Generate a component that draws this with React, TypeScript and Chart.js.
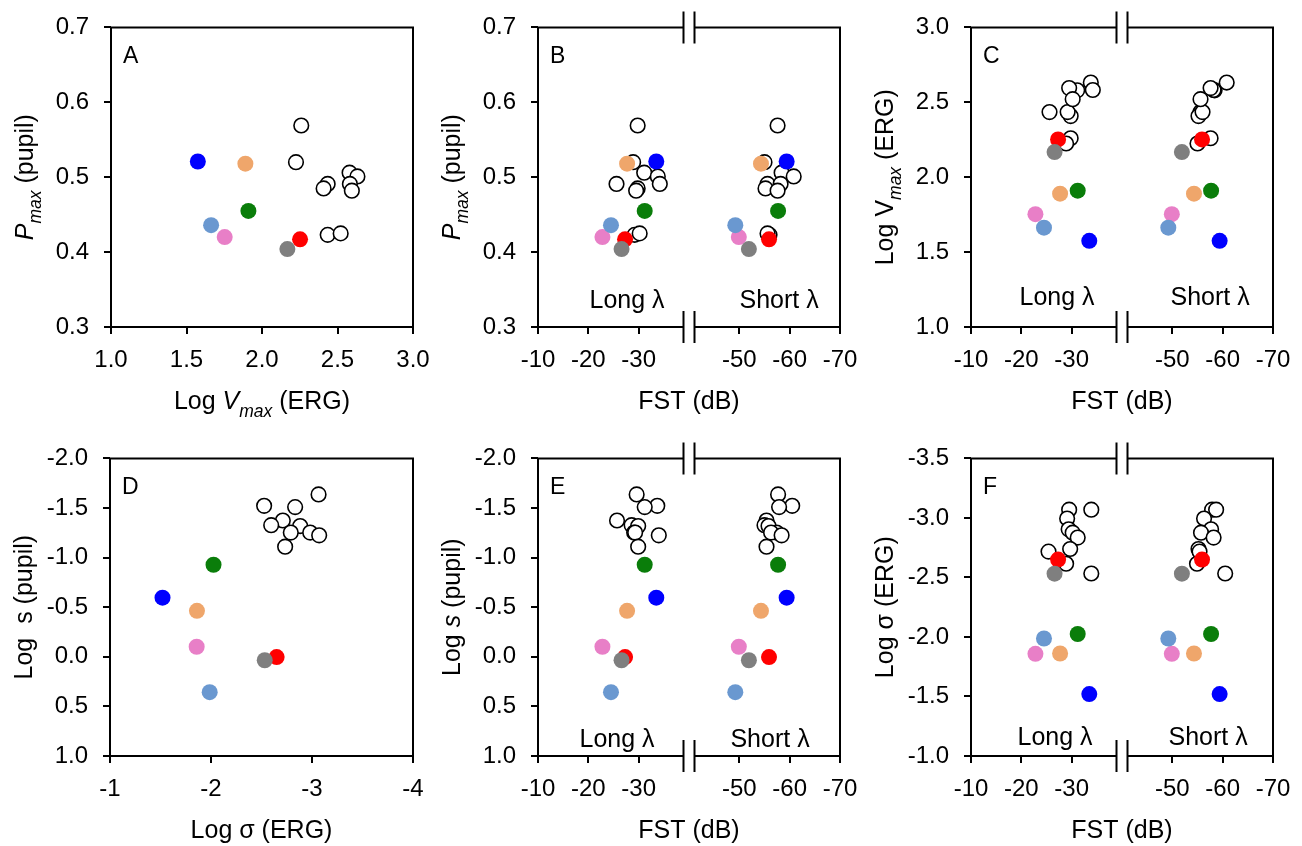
import React, { useEffect, useRef } from 'react';
import { Chart, registerables } from 'chart.js';

Chart.register(...registerables);

const FONT = '"Liberation Sans", Arial, Helvetica, sans-serif';
const TICK_SIZE = 24;
const TITLE_SIZE = 25;
const PADL = 110;
const PADT = 24;
const PADR = 30;
const PADB = 90;

// ---- patients (blue, orange, green, light blue, pink, gray, red) ----
const patientColors = ['#0000FF', '#EFA66B', '#0A7D0A', '#6A98D0', '#E87FC7', '#7F7F7F', '#FF0000'];
const patientLayer = [3, 4, 5, 6, 7, 1, 2];
const patientLogVmax = [1.575, 1.89, 1.91, 1.663, 1.753, 2.168, 2.252];
const patientPmax = [0.521, 0.518, 0.455, 0.436, 0.42, 0.404, 0.417];
const patientLogS = [-0.596, -0.463, -0.928, 0.357, -0.101, 0.035, 0.003];
const patientLogSigma = [-1.52, -1.861, -2.025, -1.987, -1.858, -2.532, -2.65];
const patientFstLong = [-33.5, -27.7, -31.2, -24.5, -22.8, -26.6, -27.3];
const patientFstShort = [-59.4, -54.3, -57.7, -49.2, -49.9, -51.9, -55.9];

// ---- normal subjects, top row ----
const normalLogVmax = [2.26, 2.225, 2.58, 2.632, 2.435, 2.408, 2.582, 2.595, 2.435, 2.521];
const normalPmax = [0.569, 0.52, 0.506, 0.501, 0.491, 0.485, 0.491, 0.482, 0.423, 0.425];
const normalFstLong = [-29.8, -28.9, -31.1, -33.8, -25.6, -29.8, -34.2, -29.5, -29.2, -30.2];
const normalFstShort = [-57.6, -55.0, -58.4, -60.8, -55.6, -55.2, -58.2, -57.6, -56.0, -55.6];

// ---- normal subjects, bottom row ----
const normalLogSigmaD = [-3.065, -2.526, -2.833, -2.711, -2.596, -2.883, -2.79, -2.982, -3.071, -2.734];
const normalLogSD = [-1.637, -1.522, -1.509, -1.374, -1.327, -1.318, -1.252, -1.252, -1.225, -1.11];
const eNormalFstLong = [-29.6, -33.7, -31.2, -25.7, -28.6, -29.9, -29.1, -29.3, -34.0, -29.9];
const eNormalFstShort = [-57.7, -60.5, -57.9, -55.4, -55.0, -55.8, -57.4, -56.3, -58.4, -55.4];
const fNormalLogSigma = [-3.069, -3.069, -2.995, -2.904, -2.876, -2.835, -2.739, -2.717, -2.615, -2.533];
const fNormalFstLong = [-29.5, -33.9, -29.1, -29.4, -30.2, -31.2, -29.7, -25.4, -28.9, -33.9];
const fNormalFstShort = [-57.9, -58.7, -56.3, -57.7, -55.7, -58.2, -55.2, -55.4, -54.9, -60.5];

// ---- tick labels ----
const ticksPmax = [0.3, 0.4, 0.5, 0.6, 0.7];
const ticksLogVmax = [1.0, 1.5, 2.0, 2.5, 3.0];
const ticksFst = [-10, -20, -30, -50, -60, -70];
const ticksLogSigmaX = [-1, -2, -3, -4];
const ticksLogS = [-2.0, -1.5, -1.0, -0.5, 0.0, 0.5, 1.0];
const ticksLogSigmaY = [-3.5, -3.0, -2.5, -2.0, -1.5, -1.0];

const bandTexts = ['Long \u03bb', 'Short \u03bb'];
const FST_BREAK = -40;

type Seg = { t: string; i?: boolean; s?: boolean };
type Pt = { x: number; y: number };
interface Cfg {
  letter: string;
  left: number; top: number; w: number; h: number;
  xMin: number; xMax: number; xRev: boolean; xTicks: number[]; xDec: number; xTitle: Seg[];
  yMin: number; yMax: number; yRev: boolean; yTicks: number[]; yDec: number; yTitle: Seg[];
  breakAt?: number;
  bandAt?: number[];
  bandOffset?: number;
  normals: Pt[];
  patients: Pt[][];
}

const zip = (xs: number[], ys: number[]): Pt[] => xs.map((x, i) => ({ x, y: ys[i] }));
const pair = (a: number[], b: number[], ys: number[]): Pt[][] =>
  ys.map((y, i) => [{ x: a[i], y }, { x: b[i], y }]);

const titlePmax: Seg[] = [{ t: 'P', i: true }, { t: 'max', i: true, s: true }, { t: ' (pupil)' }];
const titleFst: Seg[] = [{ t: 'FST (dB)' }];

const panels: Cfg[] = [
  {
    letter: 'A', left: 111, top: 22, w: 302, h: 305,
    xMin: 1, xMax: 3, xRev: false, xTicks: ticksLogVmax, xDec: 1,
    xTitle: [{ t: 'Log ' }, { t: 'V', i: true }, { t: 'max', i: true, s: true }, { t: ' (ERG)' }],
    yMin: 0.3, yMax: 0.7, yRev: false, yTicks: ticksPmax, yDec: 1, yTitle: titlePmax,
    normals: zip(normalLogVmax, normalPmax),
    patients: patientPmax.map((y, i) => [{ x: patientLogVmax[i], y }]),
  },
  {
    letter: 'B', left: 538, top: 22, w: 302, h: 305,
    xMin: -70, xMax: -10, xRev: true, xTicks: ticksFst, xDec: 0, xTitle: titleFst,
    yMin: 0.3, yMax: 0.7, yRev: false, yTicks: ticksPmax, yDec: 1, yTitle: titlePmax,
    breakAt: FST_BREAK, bandAt: [-27.7, -57.9], bandOffset: 19,
    normals: [...zip(normalFstLong, normalPmax), ...zip(normalFstShort, normalPmax)],
    patients: pair(patientFstLong, patientFstShort, patientPmax),
  },
  {
    letter: 'C', left: 971, top: 22, w: 302, h: 305,
    xMin: -70, xMax: -10, xRev: true, xTicks: ticksFst, xDec: 0, xTitle: titleFst,
    yMin: 1, yMax: 3, yRev: false, yTicks: ticksLogVmax, yDec: 1,
    yTitle: [{ t: 'Log V' }, { t: 'max', i: true, s: true }, { t: ' (ERG)' }],
    breakAt: FST_BREAK, bandAt: [-27.1, -57.5], bandOffset: 22,
    normals: [...zip(normalFstLong, normalLogVmax), ...zip(normalFstShort, normalLogVmax)],
    patients: pair(patientFstLong, patientFstShort, patientLogVmax),
  },
  {
    letter: 'D', left: 110, top: 453, w: 303, h: 303,
    xMin: -4, xMax: -1, xRev: true, xTicks: ticksLogSigmaX, xDec: 0,
    xTitle: [{ t: 'Log \u03c3 (ERG)' }],
    yMin: -2, yMax: 1, yRev: true, yTicks: ticksLogS, yDec: 1,
    yTitle: [{ t: 'Log  s (pupil)' }],
    normals: zip(normalLogSigmaD, normalLogSD),
    patients: patientLogS.map((y, i) => [{ x: patientLogSigma[i], y }]),
  },
  {
    letter: 'E', left: 538, top: 453, w: 302, h: 303,
    xMin: -70, xMax: -10, xRev: true, xTicks: ticksFst, xDec: 0, xTitle: titleFst,
    yMin: -2, yMax: 1, yRev: true, yTicks: ticksLogS, yDec: 1,
    yTitle: [{ t: 'Log ' }, { t: 's', i: true }, { t: ' (pupil)' }],
    breakAt: FST_BREAK, bandAt: [-25.7, -56.1], bandOffset: 9,
    normals: [...zip(eNormalFstLong, normalLogSD), ...zip(eNormalFstShort, normalLogSD)],
    patients: pair(patientFstLong, patientFstShort, patientLogS),
  },
  {
    letter: 'F', left: 971, top: 453, w: 302, h: 303,
    xMin: -70, xMax: -10, xRev: true, xTicks: ticksFst, xDec: 0, xTitle: titleFst,
    yMin: -3.5, yMax: -1, yRev: true, yTicks: ticksLogSigmaY, yDec: 1,
    yTitle: [{ t: 'Log \u03c3 (ERG)' }],
    breakAt: FST_BREAK, bandAt: [-26.7, -57.1], bandOffset: 11,
    normals: [...zip(fNormalFstLong, fNormalLogSigma), ...zip(fNormalFstShort, fNormalLogSigma)],
    patients: pair(patientFstLong, patientFstShort, patientLogSigma),
  },
];

function drawRich(ctx: CanvasRenderingContext2D, segs: Seg[], cx: number, y: number, size: number) {
  const sub = size * 0.7;
  const fontOf = (s: Seg) => `${s.i ? 'italic ' : ''}${s.s ? sub : size}px ${FONT}`;
  let total = 0;
  const widths = segs.map((s) => {
    ctx.font = fontOf(s);
    const w = ctx.measureText(s.t).width;
    total += w;
    return w;
  });
  let x = cx - total / 2;
  ctx.textAlign = 'left';
  ctx.textBaseline = 'alphabetic';
  segs.forEach((s, k) => {
    ctx.font = fontOf(s);
    ctx.fillText(s.t, x, y + (s.s ? size * 0.3 : 0));
    x += widths[k];
  });
}

function makeDeco(cfg: Cfg) {
  return {
    id: 'deco' + cfg.letter,
    afterDraw(chart: any) {
      const ctx: CanvasRenderingContext2D = chart.ctx;
      const a = chart.chartArea;
      const xs = chart.scales.x;
      const L = a.left, R = a.right, T = a.top, B = a.bottom;
      ctx.save();
      ctx.strokeStyle = '#000';
      ctx.fillStyle = '#000';
      ctx.lineWidth = 2;
      ctx.beginPath();
      ctx.moveTo(L, T - 1); ctx.lineTo(L, B + 1);
      ctx.moveTo(R, T - 1); ctx.lineTo(R, B + 1);
      if (cfg.breakAt !== undefined) {
        const xb = xs.getPixelForValue(cfg.breakAt);
        const g = 5.5;
        for (const yy of [T, B]) {
          ctx.moveTo(L, yy); ctx.lineTo(xb - g, yy);
          ctx.moveTo(xb + g, yy); ctx.lineTo(R, yy);
          ctx.moveTo(xb - g, yy - 16); ctx.lineTo(xb - g, yy + 16);
          ctx.moveTo(xb + g, yy - 16); ctx.lineTo(xb + g, yy + 16);
        }
      } else {
        ctx.moveTo(L, T); ctx.lineTo(R, T);
        ctx.moveTo(L, B); ctx.lineTo(R, B);
      }
      ctx.stroke();

      // panel letter
      ctx.font = `23px ${FONT}`;
      ctx.textAlign = 'left';
      ctx.textBaseline = 'alphabetic';
      ctx.fillText(cfg.letter, L + 12, T + 36);

      // band labels
      if (cfg.bandAt) {
        ctx.font = `${TITLE_SIZE}px ${FONT}`;
        ctx.textAlign = 'center';
        cfg.bandAt.forEach((v, k) => {
          ctx.fillText(bandTexts[k], xs.getPixelForValue(v), B - (cfg.bandOffset || 0));
        });
      }

      // x title
      drawRich(ctx, cfg.xTitle, (L + R) / 2, B + 82, TITLE_SIZE);

      // y title
      ctx.save();
      ctx.translate(L - 78, (T + B) / 2);
      ctx.rotate(-Math.PI / 2);
      drawRich(ctx, cfg.yTitle, 0, 0, TITLE_SIZE);
      ctx.restore();

      ctx.restore();
    },
  };
}

function Panel({ cfg }: { cfg: Cfg }) {
  const ref = useRef<HTMLCanvasElement>(null);
  const W = PADL + cfg.w + PADR;
  const H = PADT + cfg.h + PADB;
  useEffect(() => {
    const datasets: any[] = [
      {
        data: cfg.normals,
        pointRadius: 7.3,
        pointBackgroundColor: '#FFFFFF',
        pointBorderColor: '#000000',
        pointBorderWidth: 1.6,
        order: 20,
      },
      ...cfg.patients.map((pts, i) => ({
        data: pts,
        pointRadius: 8,
        pointBackgroundColor: patientColors[i],
        pointBorderColor: patientColors[i],
        pointBorderWidth: 0,
        order: patientLayer[i],
      })),
    ];
    const tickFont = { family: FONT, size: TICK_SIZE };
    const grid = { display: true, drawOnChartArea: false, drawTicks: true, tickLength: 7, color: '#000', lineWidth: 2 };
    const chart = new Chart(ref.current as HTMLCanvasElement, {
      type: 'scatter',
      data: { datasets },
      options: {
        responsive: false,
        animation: false,
        events: [],
        layout: { padding: { left: 0, top: PADT, right: PADR, bottom: 0 } },
        plugins: { legend: { display: false }, tooltip: { enabled: false } },
        scales: {
          x: {
            type: 'linear',
            position: 'bottom',
            min: cfg.xMin,
            max: cfg.xMax,
            reverse: cfg.xRev,
            afterBuildTicks: (axis: any) => { axis.ticks = cfg.xTicks.map((v) => ({ value: v })); },
            afterFit: (s: any) => { s.height = PADB; },
            ticks: {
              font: tickFont, color: '#000', padding: 12, maxRotation: 0, autoSkip: false,
              callback: (v: any) => Number(v).toFixed(cfg.xDec),
            },
            grid,
            border: { display: false },
            title: { display: false },
          },
          y: {
            type: 'linear',
            position: 'left',
            min: cfg.yMin,
            max: cfg.yMax,
            reverse: cfg.yRev,
            afterBuildTicks: (axis: any) => { axis.ticks = cfg.yTicks.map((v) => ({ value: v })); },
            afterFit: (s: any) => { s.width = PADL; },
            ticks: {
              font: tickFont, color: '#000', padding: 15, autoSkip: false,
              callback: (v: any) => Number(v).toFixed(cfg.yDec),
            },
            grid,
            border: { display: false },
            title: { display: false },
          },
        },
      } as any,
      plugins: [makeDeco(cfg)],
    });
    return () => chart.destroy();
  }, []);
  return (
    <canvas
      ref={ref}
      width={W}
      height={H}
      style={{ position: 'absolute', left: cfg.left - PADL, top: cfg.top - PADT, width: W, height: H }}
    />
  );
}

export default function App() {
  return (
    <div
      style={{
        position: 'absolute', left: 0, top: 0, width: 1302, height: 846,
        overflow: 'hidden', background: '#FFFFFF',
      }}
    >
      {panels.map((p) => (
        <Panel key={p.letter} cfg={p} />
      ))}
    </div>
  );
}
